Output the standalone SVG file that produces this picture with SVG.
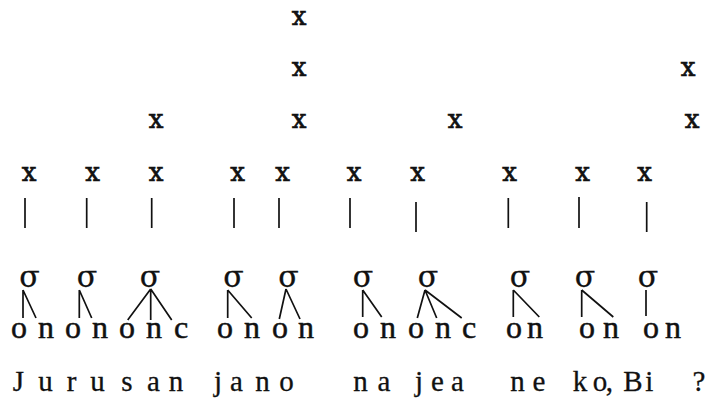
<svg xmlns="http://www.w3.org/2000/svg" width="720" height="400" viewBox="0 0 720 400">
  <style>
    .grid { font-family: "DejaVu Serif", "Liberation Serif", serif; font-size: 26px; fill: #111; stroke: #111; stroke-width: 0.7; text-anchor: middle; }
    .syl { font-family: "DejaVu Serif", "Liberation Serif", serif; font-size: 30px; fill: #111; stroke: #111; stroke-width: 0.3; text-anchor: middle; }
    .seg { font-family: "Liberation Serif", "Times New Roman", serif; font-size: 32px; fill: #111; stroke: #111; stroke-width: 0.5; text-anchor: middle; }
    .word { font-family: "Liberation Serif", "Times New Roman", serif; font-size: 29px; fill: #111; stroke: #111; stroke-width: 0.3; text-anchor: middle; }
    .bar, .link { stroke: #111; stroke-width: 1.7; fill: none; stroke-linecap: butt; }
  </style>
  <rect width="720" height="400" fill="#ffffff"/>

  <!-- metrical grid: level 1 marks, one per syllable -->
  <g id="grid-level1" class="grid">
    <text x="29" y="181">x</text>
    <text x="92.5" y="181">x</text>
    <text x="156" y="181">x</text>
    <text x="237.5" y="181">x</text>
    <text x="282.5" y="181">x</text>
    <text x="354" y="181">x</text>
    <text x="417.5" y="181">x</text>
    <text x="509.5" y="181">x</text>
    <text x="582.5" y="181">x</text>
    <text x="644.5" y="181">x</text>
  </g>
  <!-- higher grid levels -->
  <g id="grid-level2" class="grid">
    <text x="156" y="128">x</text>
    <text x="299" y="128">x</text>
    <text x="455" y="128">x</text>
    <text x="692" y="128">x</text>
  </g>
  <g id="grid-level3" class="grid">
    <text x="299" y="76">x</text>
    <text x="688" y="76">x</text>
  </g>
  <g id="grid-level4" class="grid">
    <text x="299" y="25">x</text>
  </g>

  <!-- syllable nodes -->
  <g id="syl-1" class="syl"><text x="29.5" y="287">σ</text></g>
  <g id="syl-2" class="syl"><text x="87" y="287">σ</text></g>
  <g id="syl-3" class="syl"><text x="150" y="287">σ</text></g>
  <g id="syl-4" class="syl"><text x="233.5" y="287">σ</text></g>
  <g id="syl-5" class="syl"><text x="288.5" y="287">σ</text></g>
  <g id="syl-6" class="syl"><text x="363" y="287">σ</text></g>
  <g id="syl-7" class="syl"><text x="428" y="287">σ</text></g>
  <g id="syl-8" class="syl"><text x="520" y="287">σ</text></g>
  <g id="syl-9" class="syl"><text x="585" y="287">σ</text></g>
  <g id="syl-10" class="syl"><text x="648" y="287">σ</text></g>

  <!-- onset / nucleus / coda segments -->
  <g id="segments" class="seg">
    <text x="19 46" y="338">on</text>
    <text x="73 100" y="338">on</text>
    <text x="127 154 181" y="338">onc</text>
    <text x="225 252" y="338">on</text>
    <text x="280 306" y="338">on</text>
    <text x="361 388" y="338">on</text>
    <text x="416 443 469" y="338">onc</text>
    <text x="514 535" y="338">on</text>
    <text x="587 611" y="338">on</text>
    <text x="651 673" y="338">on</text>
  </g>

  <!-- connectors: grid-to-syllable bars and syllable-to-segment links -->
  <g id="connectors">
    <g class="bar">
      <line x1="25" y1="198" x2="25" y2="228"/>
      <line x1="86.7" y1="198" x2="86.7" y2="228"/>
      <line x1="151.7" y1="198" x2="151.7" y2="228"/>
      <line x1="234" y1="198" x2="234" y2="228"/>
      <line x1="279" y1="198" x2="279" y2="228"/>
      <line x1="350" y1="198" x2="350" y2="228"/>
      <line x1="416" y1="202" x2="416" y2="232"/>
      <line x1="508.3" y1="198" x2="508.3" y2="228"/>
      <line x1="579" y1="197" x2="579" y2="228"/>
      <line x1="646.7" y1="202" x2="646.7" y2="232"/>
    </g>
    <g class="link">
      <path d="M23 290 V318 M23 290 L36 318"/>
      <path d="M79.3 290 V318 M79.3 290 L91.7 318"/>
      <path d="M150.7 289 L127.7 320 M150.7 289 V320 M150.7 289 L171.7 320"/>
      <path d="M227.7 290 V318 M227.7 290 L251.7 318"/>
      <path d="M286 289 L279.3 319 M286 289 L300 319"/>
      <path d="M362.7 290 V317 M362.7 290 L381.7 317"/>
      <path d="M425 290 L417.3 318 M425 290 L436.7 318 M425 290 L461.7 318"/>
      <path d="M513.3 290 V317 M513.3 290 L539.3 317"/>
      <path d="M581.7 290 V317 M581.7 290 L613.3 317"/>
      <path d="M646 290 V316"/>
    </g>
  </g>

  <!-- orthographic line -->
  <g id="words" class="word">
    <text y="391">
      <tspan x="18.5 45.5 71.5 97.5 127 153.5 179.5">Jurusan</tspan>
      <tspan x="218 236.5 262.5 290">jano</tspan>
      <tspan x="360.5 384 419 437.5 461">najea</tspan>
      <tspan x="517.5 542.5">ne</tspan>
      <tspan x="580 600 613">ko,</tspan>
      <tspan x="633 653">Bi</tspan>
      <tspan x="699">?</tspan>
    </text>
  </g>
</svg>
